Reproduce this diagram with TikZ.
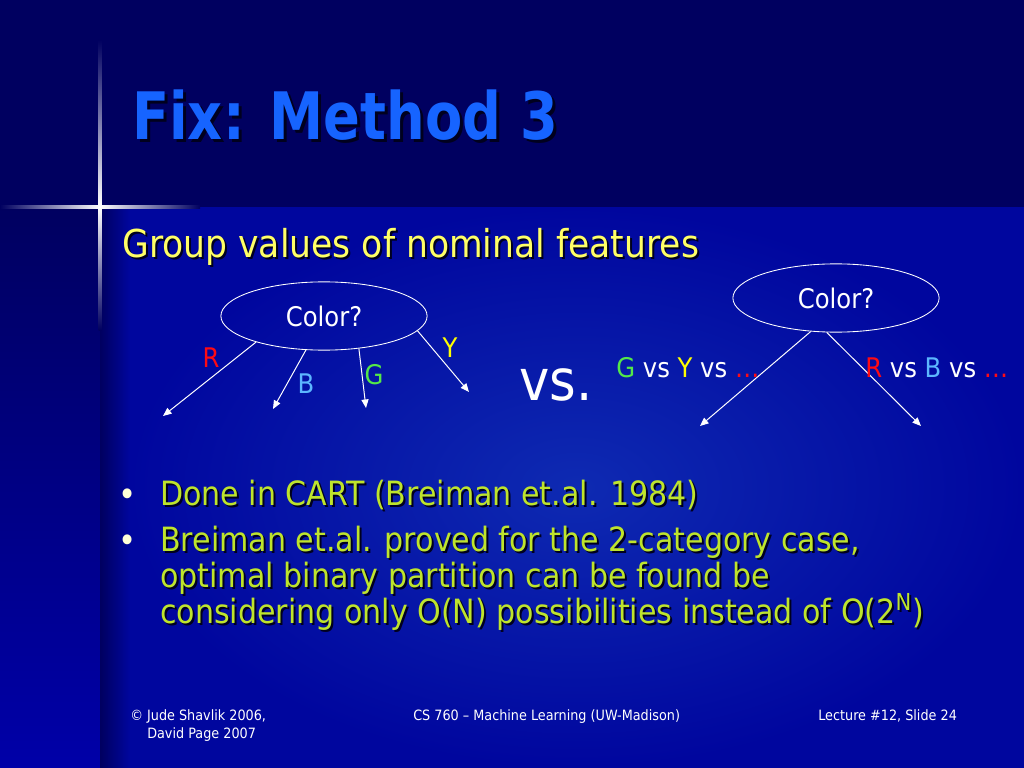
\documentclass[tikz,border=0pt]{standalone}
\usepackage{fontspec}
\setmainfont{DejaVu Sans}[FakeStretch=0.9]
\newfontfamily\titlefont{DejaVu Sans Bold}[FakeStretch=0.83]
\usetikzlibrary{shapes.geometric,arrows.meta}

\definecolor{navytop}{RGB}{0,0,96}
\definecolor{bodyblue}{RGB}{0,6,158}
\definecolor{bodylight}{RGB}{14,42,178}
\definecolor{leftblue}{RGB}{0,0,168}
\definecolor{shadowc}{RGB}{0,0,30}
\definecolor{titleblue}{RGB}{22,100,255}
\definecolor{subyellow}{RGB}{255,255,102}
\definecolor{bulletgreen}{RGB}{190,228,44}
\definecolor{bulletdot}{RGB}{255,255,215}
\definecolor{cred}{RGB}{255,10,20}
\definecolor{cgreen}{RGB}{84,232,72}
\definecolor{cyellow}{RGB}{255,255,0}
\definecolor{cblue}{RGB}{92,182,255}

\begin{document}
\begin{tikzpicture}[x=0.703125pt,y=-0.703125pt,
    txt/.style={inner sep=0pt,anchor=base west},
    ques/.style={ellipse,draw=white,line width=0.6pt,minimum width=145pt,
      minimum height=48pt,inner sep=0pt,text=white,font=\fontsize{19}{23}\selectfont},
    arr/.style={draw=white,line width=0.7pt,-{Triangle[length=6pt,width=5pt]}},
    lbl/.style={inner sep=0pt,font=\fontsize{19}{23}\selectfont},
    bodyfont/.style={font=\fontsize{23.5}{28}\selectfont},
    dot/.style={anchor=base,inner sep=0pt,text=bulletdot,font=\fontsize{24}{28}\selectfont},
    footfont/.style={txt,text=white,font=\fontsize{10}{12}\selectfont}]

    % background
    \fill[bodyblue] (0,0) rectangle (1024,768);
    \shade[inner color=bodylight,outer color=bodyblue] (128,207) rectangle (1024,768);
    \shade[top color=navytop,bottom color=leftblue] (0,207) rectangle (100,768);
    \shade[left color=navytop,right color=bodyblue] (100,207) rectangle (130,768);
    \fill[navytop] (0,0) rectangle (1024,207);

    % star
    \shade[left color=navytop,right color=white] (0,205.5) rectangle (100,208.5);
    \shade[left color=white,right color=navytop] (100,205.5) rectangle (200,208.5);
    \shade[top color=navytop,bottom color=white] (98.5,40) rectangle (101.5,207);
    \shade[top color=white,bottom color=navytop] (98.5,207) rectangle (101.5,330);

    % title
    \node[txt,text=shadowc,font=\fontsize{46}{55}\titlefont] at (135,143) {Fix: Method 3};
    \node[txt,text=titleblue,font=\fontsize{46}{55}\titlefont] (title) at (132,140) {Fix: Method 3};

    \node[txt,text=shadowc,font=\fontsize{27}{32}\selectfont] at (124,260) {Group values of nominal features};
    \node[txt,text=subyellow,font=\fontsize{27}{32}\selectfont] (sub) at (122,258) {Group values of nominal features};

    % left tree
    \node[ques] (cl) at (324,316) {Color?};
    \coordinate (clr) at (163,416);
    \coordinate (clb) at (273,409);
    \coordinate (clg) at (366,408);
    \coordinate (cly) at (469,392);
    \draw[arr] (cl.201) -- (clr);
    \draw[arr] (cl.242) -- (clb);
    \draw[arr] (cl.317) -- (clg);
    \draw[arr] (cl.351) -- (cly);
    \node[lbl,text=cred] (lr) at (211,358) {R};
    \node[lbl,text=cblue] (lb) at (306,384) {B};
    \node[lbl,text=cgreen] (lg) at (374,375) {G};
    \node[lbl,text=cyellow] (ly) at (450,348) {Y};

    \node[txt,text=white,font=\fontsize{40}{48}\selectfont] (vs) at (519,400) {vs.};

    % right tree
    \node[ques] (cr) at (836,298) {Color?};
    \coordinate (crl) at (700,426);
    \coordinate (crr) at (921,426);
    \draw[arr] (cr.233) -- (crl);
    \draw[arr] (cr.255) -- (crr);
    \node[txt,lbl,text=white] (gy) at (616,377) {{\color{cgreen}G} vs {\color{cyellow}Y} vs {\color{cred}…}};
    \node[txt,lbl,text=white] (rb) at (865,377) {{\color{cred}R} vs {\color{cblue}B} vs {\color{cred}…}};

    % bullets
    \node[dot] (d1) at (128,506) {•};
    \node[dot] (d2) at (128,552) {•};
    \node[txt,bodyfont,text=shadowc] at (162,507) {Done in CART (Breiman et.al. 1984)};
    \node[txt,bodyfont,text=bulletgreen] (t1) at (160,505) {Done in CART (Breiman et.al. 1984)};
    \node[txt,bodyfont,text=shadowc] at (162,553) {Breiman et.al. proved for the 2-category case,};
    \node[txt,bodyfont,text=bulletgreen] (t2) at (160,551) {Breiman et.al. proved for the 2-category case,};
    \node[txt,bodyfont,text=shadowc] at (162,589) {optimal binary partition can be found be};
    \node[txt,bodyfont,text=bulletgreen] (t3) at (160,587) {optimal binary partition can be found be};
    \node[txt,bodyfont,text=shadowc] at (162,625) {considering only O(N) possibilities instead of O(2\textsuperscript{N})};
    \node[txt,bodyfont,text=bulletgreen] (t4) at (160,623) {considering only O(N) possibilities instead of O(2\textsuperscript{N})};

    % footer
    \node[footfont] (f1) at (130,720) {© Jude Shavlik 2006,};
    \node[footfont] (f2) at (147,738) {David Page 2007};
    \node[footfont] (f3) at (413,720) {CS 760 – Machine Learning (UW-Madison)};
    \node[footfont] (f4) at (818,720) {Lecture \#12, Slide 24};
\end{tikzpicture}
\end{document}
